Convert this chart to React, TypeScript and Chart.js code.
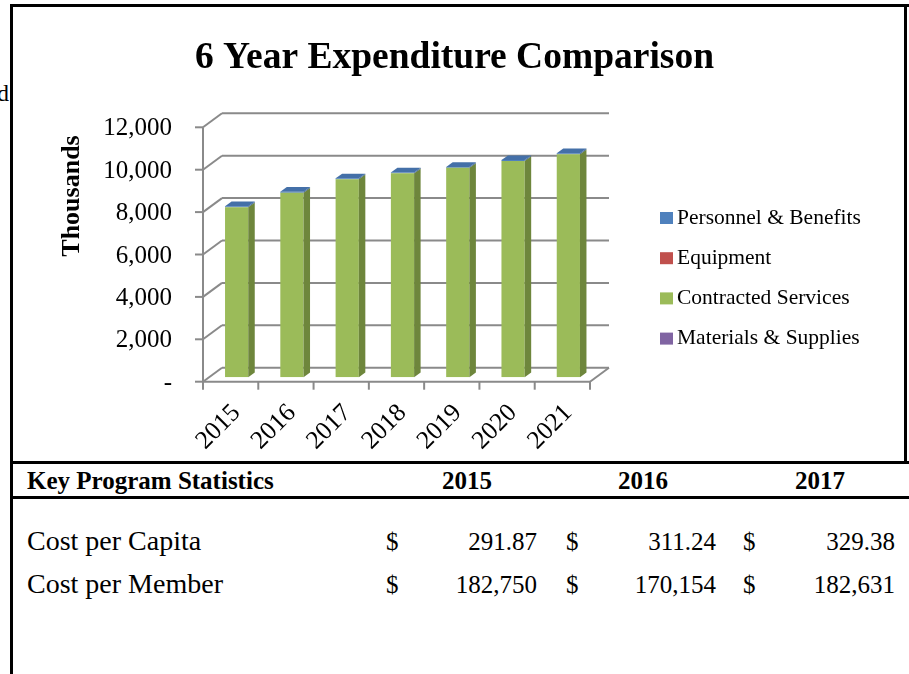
import React, { useEffect, useRef } from 'react';
import { Chart, registerables } from 'chart.js';

Chart.register(...registerables);

// ---------- data ----------
const YEARS = ['2015', '2016', '2017', '2018', '2019', '2020', '2021'];
const PERSONNEL = [45, 45, 45, 45, 45, 45, 45];
const EQUIPMENT = [0, 0, 0, 0, 0, 0, 0];
const CONTRACTED = [8020, 8710, 9340, 9620, 9880, 10200, 10520];
const MATERIALS = [0, 0, 0, 0, 0, 0, 0];
const Y_MIN = 0;
const Y_MAX = 12000;
const Y_STEP = 2000;

const TITLE = '6 Year Expenditure Comparison';
const Y_TITLE = 'Thousands';

const TABLE_TITLE = 'Key Program Statistics';
const TABLE_YEARS = ['2015', '2016', '2017'];
const ROW_LABELS = ['Cost per Capita', 'Cost per Member'];
const COST_PER_CAPITA = [291.87, 311.24, 329.38];
const COST_PER_MEMBER = [182750, 170154, 182631];

// ---------- styles ----------
const SERIF = '"Liberation Serif", "Times New Roman", serif';
const GRID = '#8a8a8a';
const FRONT = { x: -6, y: 4.4 };
const BACK = { x: 13, y: -9.6 };
const DEPTH = { x: 6.5, y: -4.7 };

const threeD = {
  id: 'threeD',
  beforeDatasetsDraw(chart: any) {
    const { ctx, chartArea, scales } = chart;
    const { left, right } = chartArea;
    const y = scales.y;
    const x = scales.x;
    const line = (x1: number, y1: number, x2: number, y2: number) => {
      ctx.beginPath();
      ctx.moveTo(x1, y1);
      ctx.lineTo(x2, y2);
      ctx.stroke();
    };
    ctx.save();
    ctx.strokeStyle = GRID;
    ctx.lineWidth = 2;
    ctx.lineCap = 'butt';
    const zero = y.getPixelForValue(Y_MIN);
    const topV = y.getPixelForValue(Y_MAX);
    for (const t of y.ticks) {
      const py = y.getPixelForValue(t.value);
      line(left + BACK.x, py + BACK.y, right + BACK.x, py + BACK.y);
      line(left + FRONT.x, py + FRONT.y, left + BACK.x, py + BACK.y);
      line(left + FRONT.x - 8, py + FRONT.y, left + FRONT.x, py + FRONT.y);
    }
    line(left + FRONT.x, topV + FRONT.y, left + FRONT.x, zero + FRONT.y + 8);
    line(left + FRONT.x, zero + FRONT.y, right + FRONT.x, zero + FRONT.y);
    line(right + FRONT.x, zero + FRONT.y, right + BACK.x, zero + BACK.y);
    const n = x.ticks.length;
    const cw = (right - left) / n;
    for (let i = 1; i <= n; i++) {
      const px = left + FRONT.x + i * cw;
      line(px, zero + FRONT.y, px, zero + FRONT.y + 8);
    }
    ctx.restore();
  },
  afterDatasetsDraw(chart: any) {
    const { ctx } = chart;
    const n = chart.data.labels.length;
    const poly = (pts: number[][]) => {
      ctx.beginPath();
      ctx.moveTo(pts[0][0], pts[0][1]);
      for (let k = 1; k < pts.length; k++) ctx.lineTo(pts[k][0], pts[k][1]);
      ctx.closePath();
      ctx.fill();
    };
    ctx.save();
    for (let i = 0; i < n; i++) {
      let top: any = null;
      chart.data.datasets.forEach((ds: any, d: number) => {
        const meta = chart.getDatasetMeta(d);
        if (meta.hidden) return;
        const el = meta.data[i];
        if (!el) return;
        const p = el.getProps(['x', 'y', 'base', 'width'], true);
        if (Math.abs(p.base - p.y) < 0.01) return;
        const r = p.x + p.width / 2;
        ctx.fillStyle = ds.sideColor;
        poly([[r, p.y], [r + DEPTH.x, p.y + DEPTH.y], [r + DEPTH.x, p.base + DEPTH.y], [r, p.base]]);
        if (!top || p.y < top.y) top = { ...p, color: ds.topColor };
      });
      if (top) {
        const l = top.x - top.width / 2;
        const r = top.x + top.width / 2;
        ctx.fillStyle = top.color;
        poly([[l, top.y], [r, top.y], [r + DEPTH.x, top.y + DEPTH.y], [l + DEPTH.x, top.y + DEPTH.y]]);
      }
    }
    ctx.restore();
  },
  afterDraw(chart: any) {
    const { ctx } = chart;
    ctx.save();
    // axis title
    ctx.translate(72, 196);
    ctx.rotate(-Math.PI / 2);
    ctx.font = `bold 26px ${SERIF}`;
    ctx.fillStyle = '#000';
    ctx.textAlign = 'center';
    ctx.textBaseline = 'middle';
    ctx.fillText(Y_TITLE, 0, 0);
    ctx.restore();
    // legend (top of stack first)
    ctx.save();
    ctx.font = `21.5px ${SERIF}`;
    ctx.textBaseline = 'middle';
    ctx.textAlign = 'left';
    const items = [...chart.data.datasets].reverse();
    items.forEach((ds: any, k: number) => {
      const cy = 218 + k * 40.2;
      ctx.fillStyle = ds.backgroundColor;
      ctx.fillRect(660, cy - 6, 13, 12);
      ctx.fillStyle = '#000';
      ctx.fillText(ds.label, 677, cy);
    });
    ctx.restore();
  },
};

function ChartCanvas() {
  const ref = useRef<HTMLCanvasElement | null>(null);
  useEffect(() => {
    if (!ref.current) return;
    const chart = new Chart(ref.current, {
      type: 'bar',
      data: {
        labels: YEARS,
        datasets: [
          { label: 'Materials & Supplies', data: MATERIALS, backgroundColor: '#8064A2', sideColor: '#5C4877', topColor: '#9D87BD' } as any,
          { label: 'Contracted Services', data: CONTRACTED, backgroundColor: '#9BBB59', sideColor: '#6E863C', topColor: '#B5CB7D' } as any,
          { label: 'Equipment', data: EQUIPMENT, backgroundColor: '#C0504D', sideColor: '#8E3B39', topColor: '#D27B79' } as any,
          { label: 'Personnel & Benefits', data: PERSONNEL, backgroundColor: '#4F81BD', sideColor: '#385D8A', topColor: '#4470A8' } as any,
        ],
      },
      options: {
        responsive: false,
        animation: false,
        layout: { padding: 0 },
        datasets: { bar: { barPercentage: 0.42, categoryPercentage: 1, borderWidth: 0 } },
        plugins: {
          legend: { display: false },
          tooltip: { enabled: false },
          title: {
            display: true,
            text: TITLE,
            color: '#000',
            font: { family: SERIF, size: 37.5, weight: 'bold' },
            padding: { top: 36, bottom: 41.9 },
          },
        },
        scales: {
          x: {
            stacked: true,
            offset: true,
            grid: { display: false, drawTicks: false },
            border: { display: false },
            ticks: {
              color: '#000',
              font: { family: SERIF, size: 25.5 },
              minRotation: 45,
              maxRotation: 45,
              autoSkip: false,
              padding: 21,
              labelOffset: 0,
            },
            afterFit: (s: any) => { s.height = 84.7; },
          },
          y: {
            stacked: true,
            min: Y_MIN,
            max: Y_MAX,
            grid: { display: false, drawTicks: false },
            border: { display: false },
            ticks: {
              stepSize: Y_STEP,
              padding: 37,
              labelOffset: 6,
              color: '#000',
              font: { family: SERIF, size: 25 },
              callback: (v: any) => (Number(v) === 0 ? '-' : Number(v).toLocaleString('en-US')),
            },
            afterFit: (s: any) => { s.width = 209; },
          },
          yRight: {
            position: 'right',
            display: true,
            grid: { display: false, drawTicks: false },
            border: { display: false },
            ticks: { display: false },
            afterFit: (s: any) => { s.width = 313; },
          },
        },
      } as any,
      plugins: [threeD],
    });
    return () => chart.destroy();
  }, []);
  return <canvas ref={ref} width={909} height={462} style={{ position: 'absolute', left: 0, top: 0, width: 909, height: 462 }} />;
}

const abs = (s: React.CSSProperties): React.CSSProperties => ({ position: 'absolute', ...s });

function Text({ x, baseline, size, bold, align, children }: any) {
  const top = baseline - 0.8375 * size;
  const style: React.CSSProperties = abs({
    top,
    fontSize: size,
    lineHeight: `${size}px`,
    fontWeight: bold ? 'bold' : 'normal',
    whiteSpace: 'nowrap',
  });
  if (align === 'right') {
    style.right = 909 - x;
  } else if (align === 'center') {
    style.left = x - 100;
    style.width = 200;
    style.textAlign = 'center';
  } else {
    style.left = x;
  }
  return <div style={style}>{children}</div>;
}

export default function App() {
  const colX = [
    { dollar: 386, right: 537, center: 467 },
    { dollar: 566, right: 716, center: 643 },
    { dollar: 743, right: 895, center: 820 },
  ];
  const rows = [
    { label: ROW_LABELS[0], values: COST_PER_CAPITA.map((v) => v.toFixed(2)), baseline: 550 },
    { label: ROW_LABELS[1], values: COST_PER_MEMBER.map((v) => v.toLocaleString('en-US')), baseline: 593 },
  ];
  return (
    <div style={{ position: 'fixed', left: 0, top: 0, width: 909, height: 674, background: '#fff', overflow: 'hidden', fontFamily: SERIF, color: '#000' }}>
      <Text x={-3} baseline={101} size={24}>d</Text>
      <ChartCanvas />
      <div style={abs({ left: 10, top: 4, width: 899, height: 3, background: '#000' })} />
      <div style={abs({ left: 10, top: 4, width: 3, height: 670, background: '#000' })} />
      <div style={abs({ left: 904, top: 4, width: 3, height: 460, background: '#000' })} />
      <div style={abs({ left: 10, top: 461, width: 899, height: 3, background: '#000' })} />
      <div style={abs({ left: 10, top: 496, width: 899, height: 3, background: '#000' })} />
      <Text x={27} baseline={489} size={25} bold>{TABLE_TITLE}</Text>
      {TABLE_YEARS.map((yr, i) => (
        <Text key={yr} x={colX[i].center} baseline={489} size={25} bold align="center">{yr}</Text>
      ))}
      {rows.map((row) => (
        <React.Fragment key={row.label}>
          <Text x={27} baseline={row.baseline} size={28}>{row.label}</Text>
          {row.values.map((v, i) => (
            <React.Fragment key={i}>
              <Text x={colX[i].dollar} baseline={row.baseline} size={25}>$</Text>
              <Text x={colX[i].right} baseline={row.baseline} size={25} align="right">{v}</Text>
            </React.Fragment>
          ))}
        </React.Fragment>
      ))}
    </div>
  );
}
